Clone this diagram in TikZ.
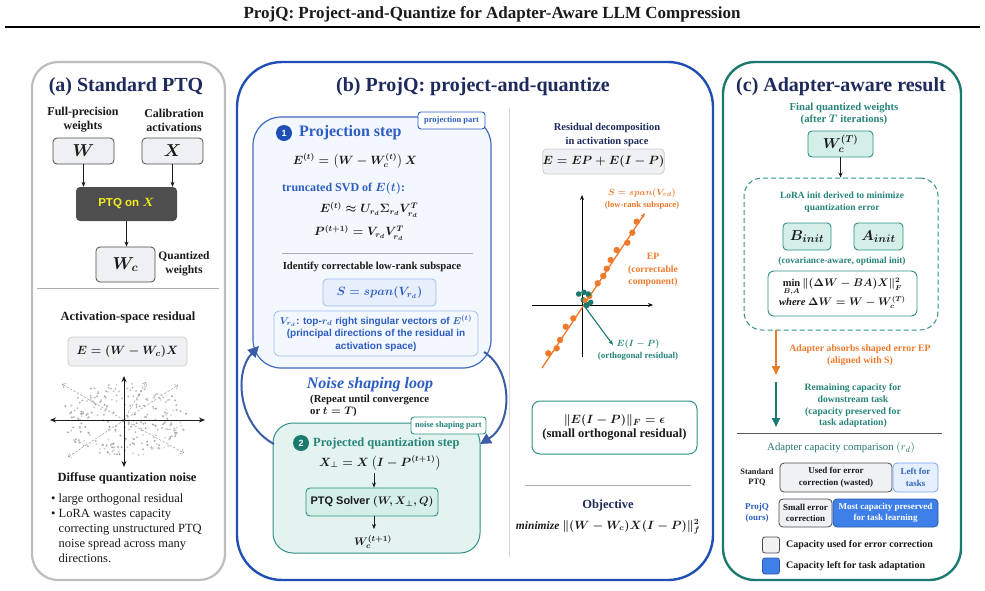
\documentclass[tikz,border=0pt]{standalone}
\usepackage{amsmath,amssymb}
\usepackage{fontspec}
\setmainfont{Liberation Serif}
\newfontfamily\sansf{Liberation Sans}
\usetikzlibrary{arrows.meta,calc}
\newcommand{\fsz}[2]{\fontsize{#1}{#2}\selectfont}
\definecolor{txt}{HTML}{1A1A1A}
\definecolor{navy}{HTML}{1E2A5C}
\definecolor{pblue}{HTML}{1F4FB4}
\definecolor{sblue}{HTML}{2C5DC2}
\definecolor{lbfill}{HTML}{F3F7FE}
\definecolor{lbbox}{HTML}{E7EEFC}
\definecolor{lbbd}{HTML}{A3BDF0}
\definecolor{teal2}{HTML}{1B7A70}
\definecolor{tealt}{HTML}{268478}
\definecolor{tealfill}{HTML}{E3F4F0}
\definecolor{tealbox}{HTML}{D4EEE8}
\definecolor{tealbd}{HTML}{2E9184}
\definecolor{orng}{HTML}{F07A2B}
\definecolor{graybd}{HTML}{BDBDBD}
\definecolor{boxgray}{HTML}{EEF0F3}
\definecolor{darkbox}{HTML}{4E4E4E}
\definecolor{ylw}{HTML}{F3EE1F}
\definecolor{capblue}{HTML}{3E7FEA}
\definecolor{capgray}{HTML}{F0F1F3}
\definecolor{lfill}{HTML}{E6EFFD}
\definecolor{loopc}{HTML}{3A5DA6}
\definecolor{dotc}{HTML}{5E667A}
\begin{document}
\begin{tikzpicture}[x=1pt,y=-1pt,
  every node/.style={inner sep=0pt,align=center,text=txt},
  ptitle/.style={font=\bfseries\fsz{20}{22},text=navy},
  gbox/.style={draw=gray!60!black,fill=boxgray,line width=0.8pt,rounded corners=4pt},
  tbox/.style={draw=tealbd,fill=tealbox,line width=0.9pt,rounded corners=4pt},
  ar/.style={-{Stealth[length=5pt,width=4pt]},line width=0.7pt,draw=txt},
  axisar/.style={line width=1pt,draw=txt},
  dasharr/.style={dashed,dash pattern=on 2.5pt off 1.5pt,line width=0.5pt,draw=gray!75,-{Straight Barb[length=3pt,width=5pt]}},
  looparr/.style={line width=2pt,draw=loopc,-{Triangle[length=11pt,width=11pt]}},
  bigarr/.style={line width=2pt,-{Triangle[length=9pt,width=8pt]}},
  sep/.style={draw=gray!65,line width=0.8pt}
]
\useasboundingbox (0,0) rectangle (985,590);

% ---------- title ----------
\node[font=\bfseries\fsz{17}{19}] (title) at (492,14) {ProjQ: Project-and-Quantize for Adapter-Aware LLM Compression};
\coordinate (rl) at (5,27); \coordinate (rr) at (980,27);
\draw[line width=1.8pt,draw=black] (rl) -- (rr);

% ---------- panels ----------
\node[draw=graybd,line width=2.2pt,rounded corners=26pt,minimum width=193,minimum height=518,fill=white] (pA) at (128.5,321) {};
\node[draw=pblue,line width=2.4pt,rounded corners=45pt,minimum width=476,minimum height=518] (pB) at (475,321) {};
\node[draw=teal2,line width=2.4pt,rounded corners=32pt,minimum width=238,minimum height=518] (pC) at (842,321) {};

% ---------- panel (a) ----------
\node[ptitle] (tA) at (126,87) {(a) Standard PTQ};
\node[font=\bfseries\fsz{12}{14}] (lW) at (83,120) {Full-precision\\weights};
\node[font=\bfseries\fsz{12}{14}] (lX) at (174,120) {Calibration\\activations};
\node[gbox,minimum width=61,minimum height=26,font=\boldmath\fsz{16}{16}] (W) at (83.5,151) {$W$};
\node[gbox,minimum width=61,minimum height=26,font=\boldmath\fsz{16}{16}] (X) at (172.5,151) {$X$};
\node[fill=darkbox,rounded corners=4pt,minimum width=101,minimum height=34,font=\sansf\bfseries\boldmath\fsz{11.5}{12},text=ylw] (ptq) at (126.5,204) {PTQ on $X$};
\node[gbox,minimum width=59,minimum height=35,font=\boldmath\fsz{17}{17}] (Wc) at (125.5,264.5) {$W_c$};
\node[font=\bfseries\fsz{11.5}{14}] (lq) at (184,264) {Quantized\\weights};
\draw[ar] (W.south) -- (W.south |- ptq.north);
\draw[ar] (X.south) -- (X.south |- ptq.north);
\draw[ar] (ptq.south) -- (ptq.south |- Wc.north);
\coordinate (sA1) at (37,288); \coordinate (sA2) at (219,288);
\draw[sep] (sA1) -- (sA2);
\node[font=\bfseries\fsz{12.5}{14}] (lres) at (128,317) {Activation-space residual};
\node[gbox,draw=gray!40,minimum width=119,minimum height=29,font=\boldmath\fsz{13}{14}] (Ebox) at (127.5,351.5) {$E=(W-W_c)X$};
% scatter
\pgfmathsetseed{3}
\foreach \i in {1,...,260}{
  \pgfmathsetmacro\rA{sqrt(rnd)}
  \pgfmathsetmacro\aA{360*rnd}
  \pgfmathtruncatemacro\pA{25+40*rnd}
  \fill[dotc!\pA] ({124+64*\rA*cos(\aA)},{420+37*\rA*sin(\aA)}) circle (1.05pt);
}
\coordinate (oA) at (124,420);
\coordinate (d1) at (62,384); \coordinate (d2) at (184,453);
\coordinate (d3) at (68,457); \coordinate (d4) at (178,385);
\coordinate (d5) at (146,382);
\draw[dasharr] (oA) -- (d1); \draw[dasharr] (oA) -- (d2);
\draw[dasharr] (oA) -- (d3); \draw[dasharr] (oA) -- (d4);
\draw[dasharr] (oA) -- (d5);
\coordinate (hxa) at (50,420); \coordinate (hxb) at (205,420);
\coordinate (vya) at (124,467); \coordinate (vyb) at (124,376);
\draw[axisar,{Stealth[length=6pt,width=5pt]}-{Stealth[length=6pt,width=5pt]}] (hxa) -- (hxb);
\draw[axisar,{Stealth[length=6pt,width=5pt]}-{Stealth[length=6pt,width=5pt]}] (vya) -- (vyb);
\node[font=\bfseries\fsz{12.5}{14}] (ldif) at (127,478) {Diffuse quantization noise};
\node[anchor=north west,align=left,font=\fsz{12.5}{15}] (bul) at (51,494) {\textbullet\ large orthogonal residual\\\textbullet\ LoRA wastes capacity\\\hphantom{\textbullet\ }correcting unstructured PTQ\\\hphantom{\textbullet\ }noise spread across many\\\hphantom{\textbullet\ }directions.};

% ---------- panel (b) ----------
\node[ptitle] (tB) at (473,87) {(b) ProjQ: project-and-quantize};
\coordinate (dv1) at (509,108); \coordinate (dv2) at (509,557);
\draw[draw=gray!30,line width=1pt] (dv1) -- (dv2);
\node[draw=pblue!85,fill=lbfill,line width=1.2pt,rounded corners=28pt,minimum width=238,minimum height=251] (proj) at (372,242.5) {};
\node[draw=sblue,fill=white,line width=0.9pt,rounded corners=3pt,minimum width=67,minimum height=17,font=\bfseries\fsz{8.5}{9},text=sblue] (tag1) at (451.5,120.5) {projection part};
\node[circle,fill=pblue,minimum size=16,font=\sansf\bfseries\fsz{9}{9},text=white] (n1) at (284,133) {1};
\node[anchor=west,font=\bfseries\fsz{16}{16},text=sblue] (ps) at (299,133) {Projection step};
\node[font=\boldmath\fsz{12}{14}] (eq1) at (355,161) {$E^{(t)}=\left(W-W_c^{(t)}\right)X$};
\node[anchor=west,font=\boldmath\bfseries\fsz{12}{14},text=sblue] (svd) at (282,188) {truncated SVD of $E(t)$:};
\node[font=\boldmath\fsz{12}{14}] (eq2) at (369,210) {$E^{(t)}\approx U_{r_d}\Sigma_{r_d}V_{r_d}^{T}$};
\node[font=\boldmath\fsz{12}{14}] (eq3) at (359,233) {$P^{(t+1)}=V_{r_d}V_{r_d}^{T}$};
\coordinate (sB1) at (282,253); \coordinate (sB2) at (473,253);
\draw[sep] (sB1) -- (sB2);
\node[font=\bfseries\fsz{10.7}{12}] (lid) at (372,267) {Identify correctable low-rank subspace};
\node[draw=lbbd,fill=lbbox,line width=0.8pt,rounded corners=4pt,minimum width=113,minimum height=27,font=\boldmath\fsz{13}{14},text=sblue] (Sbox) at (379.5,292.5) {$S=span(V_{r_d})$};
\node[draw=lbbd,fill=lbfill,line width=0.8pt,rounded corners=5pt,minimum width=204,minimum height=45,font=\sansf\bfseries\boldmath\fsz{10}{12.5},text=sblue] (Vbox) at (376,333.5) {$V_{r_d}$: top-$r_d$ right singular vectors of $E^{(t)}$\\(principal directions of the residual in\\activation space)};
\node[font=\bfseries\itshape\fsz{16}{16},text=sblue] (nsl) at (370,385) {Noise shaping loop};
\node[anchor=west,align=left,font=\boldmath\bfseries\fsz{10.7}{12.5}] (rep) at (310,406) {(Repeat until convergence\\or $t=T$)};
\node[draw=tealbd,fill=tealfill,line width=1pt,rounded corners=20pt,minimum width=207,minimum height=130] (quant) at (376.5,488) {};
\node[draw=tealbd,fill=white,line width=0.9pt,rounded corners=3pt,minimum width=75,minimum height=17,font=\bfseries\fsz{8.5}{9},text=tealt] (tag2) at (448.5,425.5) {noise shaping part};
\node[circle,fill=teal2,minimum size=16,font=\sansf\bfseries\fsz{9}{9},text=white] (n2) at (301,443) {2};
\node[anchor=west,font=\bfseries\fsz{12.5}{14},text=tealt] (qs) at (313,443) {Projected quantization step};
\node[font=\boldmath\fsz{12}{14}] (xperp) at (380,463) {$X_\perp=X\left(I-P^{(t+1)}\right)$};
\node[tbox,minimum width=132,minimum height=28,font=\sansf\bfseries\boldmath\fsz{11}{12}] (solver) at (372,502) {PTQ Solver $(W,X_\perp,Q)$};
\node[font=\boldmath\fsz{11}{12}] (wct1) at (373,542) {$W_c^{(t+1)}$};
\coordinate (xa) at (374,473);
\coordinate (xb) at (374,529);
\draw[ar] (xa) -- (xa |- solver.north);
\draw[ar] (solver.south -| xa) -- (xb);
% loop arrows
\coordinate (la1) at (274,444); \coordinate (la2) at (259,346);
\coordinate (ra1) at (484,352); \coordinate (ra2) at (480,444);
\draw[looparr] (la1) .. controls (238,425) and (234,372) .. (la2);
\draw[looparr] (ra1) .. controls (513,370) and (513,424) .. (ra2);

% right part of (b)
\node[font=\bfseries\fsz{10.5}{14},text=navy] (lrd) at (607,135) {Residual decomposition\\in activation space};
\node[gbox,draw=gray!40,minimum width=113,minimum height=25,font=\boldmath\fsz{12}{14}] (Edec) at (603.5,161.5) {$E=EP+E(I-P)$};
\coordinate (hx1) at (532,305); \coordinate (hx2) at (653,305);
\coordinate (vy1) at (582,357); \coordinate (vy2) at (582,195);
\draw[-{Stealth[length=5pt,width=4pt]},line width=0.8pt] (hx1) -- (hx2);
\draw[-{Stealth[length=5pt,width=4pt]},line width=0.8pt] (vy1) -- (vy2);
\coordinate (ol1) at (542,368); \coordinate (ol2) at (645,213);
\draw[draw=orng,line width=1.3pt,-{Stealth[length=5pt,width=4pt]}] (ol1) -- (ol2);
\foreach \p in {(636.7,221.7),(632.3,232.7),(627.3,242.7),(616.7,250),(610.7,260),(606.7,268.7),(603.3,276),(597.7,283.3),(589.3,296),(573.3,318.3),(565.7,326.7),(560,340),(556.7,348.3),(548.3,353.3)}
  \fill[orng] \p circle (3.2pt);
\foreach \p in {(578.7,294),(584,292.3),(588.3,294),(583.3,300),(590.7,302.3)}
  \fill[teal2] \p circle (2.8pt);
\fill[teal2] (586.7,305) circle (3.3pt);
\fill[orng] (585,300.5) circle (2.6pt);
\coordinate (ta1) at (585,307); \coordinate (ta2) at (613,345);
\draw[draw=teal2,line width=1.1pt,-{Stealth[length=5pt,width=4pt]}] (ta1) -- (ta2);
\node[font=\boldmath\fsz{8.7}{10},text=orng] (lS) at (642,193) {$S=span(V_{rd})$};
\node[font=\bfseries\fsz{8.6}{10},text=orng] (llr) at (642,205) {(low-rank subspace)};
\node[font=\bfseries\fsz{9.7}{12.5},text=orng] (lEP) at (653,270) {EP\\(correctable\\component)};
\node[font=\boldmath\fsz{8.7}{10},text=tealt] (lEI) at (638,344) {$E(I-P)$};
\node[font=\bfseries\fsz{8.9}{10},text=tealt] (lor) at (638,356) {(orthogonal residual)};
\node[draw=tealbd,fill=white,line width=1pt,rounded corners=8pt,minimum width=165,minimum height=53,font=\boldmath\bfseries\fsz{12.5}{14.5}] (norm) at (614.5,427.5) {$\|E(I-P)\|_F=\epsilon$\\(small orthogonal residual)};
\coordinate (sC1) at (525,485); \coordinate (sC2) at (691,485);
\draw[sep] (sC1) -- (sC2);
\node[font=\bfseries\fsz{12.5}{14},text=navy] (lobj) at (608,505) {Objective};
\node[font=\boldmath\fsz{11.5}{13}] (obj) at (608,527) {\textbf{\textit{minimize}} $\|(W-W_c)X(I-P)\|_f^2$};

% ---------- panel (c) ----------
\node[ptitle] (tC) at (841,87) {(c) Adapter-aware result};
\node[font=\boldmath\bfseries\fsz{10.7}{12.5},text=tealt] (lfin) at (844,114) {Final quantized weights\\(after $T$ iterations)};
\node[tbox,minimum width=65,minimum height=26,font=\boldmath\fsz{14}{14}] (wcT) at (840.5,144) {$W_c^{(T)}$};
\node[draw=tealbd,dashed,dash pattern=on 5pt off 3pt,line width=1pt,rounded corners=18pt,minimum width=194,minimum height=152] (dash) at (841,254) {};
\draw[ar] (wcT.south) -- (wcT.south |- dash.north);
\node[font=\bfseries\fsz{9.5}{12},text=tealt] (llora) at (842,202) {LoRA init derived to minimize\\quantization error};
\node[tbox,minimum width=48,minimum height=27,font=\boldmath\fsz{15}{15}] (Bi) at (807,236.5) {$B_{init}$};
\node[tbox,minimum width=49,minimum height=27,font=\boldmath\fsz{15}{15}] (Ai) at (878.5,236.5) {$A_{init}$};
\node[font=\bfseries\fsz{9.3}{11},text=tealt] (lcov) at (842,261) {(covariance-aware, optimal init)};
\node[draw=tealbd,fill=white,line width=0.9pt,rounded corners=6pt,minimum width=149,minimum height=45,font=\boldmath\fsz{10.5}{13}] (minb) at (842.5,293.5) {$\min\limits_{B,A}\|(\Delta W-BA)X\|_F^2$\\[-1pt]\textbf{\textit{where}} $\Delta W=W-W_c^{(T)}$};
\coordinate (oa1) at (776,330); \coordinate (oa2) at (776,375);
\draw[bigarr,draw=orng,fill=orng] (oa1) -- (oa2);
\node[font=\bfseries\fsz{9.8}{12},text=orng] (labs) at (860,355) {Adapter absorbs shaped error EP\\(aligned with S)};
\coordinate (tg1) at (776,382); \coordinate (tg2) at (776,427);
\draw[bigarr,draw=teal2,fill=teal2] (tg1) -- (tg2);
\node[font=\bfseries\fsz{9.7}{11.7},text=tealt] (lrem) at (853,406) {Remaining capacity for\\downstream task\\(capacity preserved for\\task adaptation)};
\coordinate (sD1) at (737,433); \coordinate (sD2) at (942,433);
\draw[sep,draw=gray!70!black] (sD1) -- (sD2);
\node[font=\fsz{10.8}{12},text=tealt!90!black] (lcap) at (841,448) {Adapter capacity comparison $(r_d)$};
\node[draw=gray!60!black,fill=capgray,line width=0.8pt,rounded corners=4pt,minimum width=112,minimum height=29,font=\bfseries\fsz{9}{11.5}] (u1) at (836,477.5) {Used for error\\correction (wasted)};
\node[draw=capblue!70,fill=lfill,line width=0.8pt,rounded corners=4pt,minimum width=45,minimum height=29,font=\bfseries\fsz{9}{11.5},text=capblue!80!black] (l1) at (915.5,477.5) {Left for\\tasks};
\node[draw=gray!60!black,fill=capgray,line width=0.8pt,rounded corners=4pt,minimum width=53,minimum height=28,font=\bfseries\fsz{9}{11.5}] (u2) at (805.5,513) {Small error\\correction};
\node[draw=capblue!70!black,fill=capblue,line width=0.8pt,rounded corners=4pt,minimum width=105,minimum height=28,font=\bfseries\fsz{9}{11.5},text=white] (l2) at (885.5,513) {Most capacity preserved\\for task learning};
\node[font=\bfseries\fsz{8.3}{10}] (lstd) at (757,477) {Standard\\PTQ};
\node[font=\bfseries\fsz{9}{11},text=sblue] (lpq) at (757,513) {ProjQ\\(ours)};
\node[draw=gray!60!black,fill=capgray,line width=0.8pt,rounded corners=2.5pt,minimum width=17,minimum height=16] (lg1) at (771,545) {};
\node[anchor=west,font=\bfseries\fsz{10}{12}] (lgt1) at (786,545) {Capacity used for error correction};
\node[draw=capblue!70!black,fill=capblue,line width=0.8pt,rounded corners=2.5pt,minimum width=17,minimum height=16] (lg2) at (771,566) {};
\node[anchor=west,font=\bfseries\fsz{10}{12}] (lgt2) at (786,566) {Capacity left for task adaptation};
\end{tikzpicture}
\end{document}
